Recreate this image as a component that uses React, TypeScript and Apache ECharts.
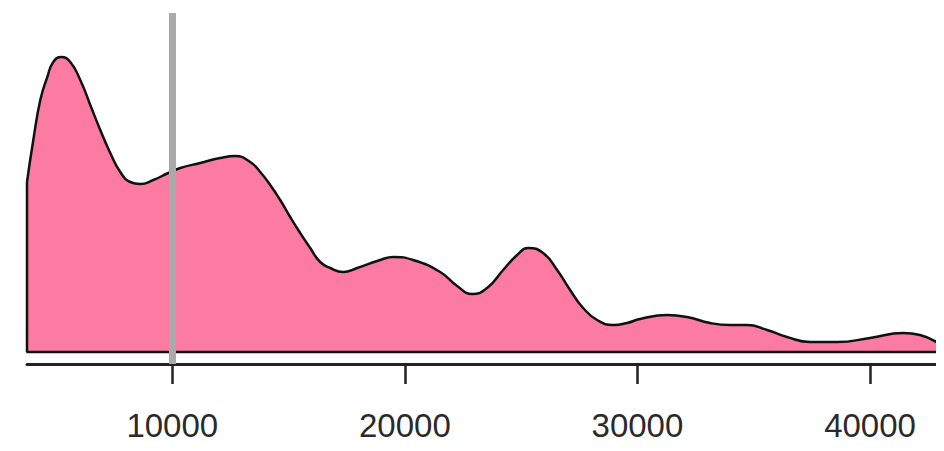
import React, { useEffect, useRef } from "react";
import * as echarts from "echarts";

// Density curve: x (value), relative density height
const densityX = [
  3755, 4026, 4327, 4628, 4885, 5229, 5616, 6046, 6476, 6905, 7335, 7765, 8195,
  8625, 9183, 9828, 10344, 11203, 12063, 12708, 13352, 13782, 14212, 14642,
  15072, 15501, 15931, 16361, 16791, 17350, 17951, 18940, 19499, 20358,
  21519, 22249, 22894, 23539, 24226, 24828, 25301, 25946, 26547, 27106, 27665,
  28267, 28954, 29556, 30114, 31275, 32135, 33123, 33982, 34714, 35573, 36433,
  37421, 38582, 40000, 41418, 42149, 42923,
];
const densityY = [
  170, 212, 252, 275, 290, 295, 290, 272, 247, 222, 199, 180, 170,
  168, 172, 179, 184, 189, 194, 196, 190, 180, 167, 152,
  135, 119, 104, 90, 84, 80, 84, 92, 95, 92,
  80, 66, 58, 64, 82, 97, 104, 99, 82, 62, 44,
  32, 27, 29, 33, 37, 35, 29, 27, 27, 22, 15,
  10, 10, 14, 19, 17, 9,
];
const tickValues = [10000, 20000, 30000, 40000];
const referenceX = 10000;
const xMin = 3755;
const xMax = 42923;

export default function App() {
  const ref = useRef<HTMLDivElement>(null);
  useEffect(() => {
    if (!ref.current) return;
    const chart = echarts.init(ref.current, null, { renderer: "svg" });
    const curve = densityX.map((x, i) => [x, densityY[i]]);
    const n = densityY.length;
    chart.setOption({
      animation: false,
      grid: { left: 19, right: 6, top: 5, bottom: 87 },
      xAxis: {
        type: "value",
        min: xMin,
        max: xMax,
        splitLine: { show: false },
        axisLine: { show: true, onZero: false, lineStyle: { color: "#222", width: 3 } },
        axisTick: {
          show: true,
          customValues: tickValues,
          length: 20,
          lineStyle: { color: "#222", width: 2.5 },
        },
        axisLabel: {
          customValues: tickValues,
          formatter: (v: number) => String(v),
          margin: 45,
          fontSize: 33,
          color: "#2a2a2a",
          fontFamily: "Liberation Sans, Arial, sans-serif",
        },
      },
      yAxis: {
        type: "value",
        min: -12,
        max: 339,
        show: false,
        splitLine: { show: false },
      },
      series: [
        {
          type: "line",
          data: curve,
          smooth: 0.5,
          symbol: "none",
          lineStyle: { color: "#111", width: 2.5 },
          areaStyle: { color: "#FB7BA2", opacity: 1, origin: "auto" },
          z: 2,
        },
        {
          type: "line",
          data: [
            [densityX[0], densityY[0]],
            [densityX[0], 0],
            [densityX[n - 1], 0],
            [densityX[n - 1], densityY[n - 1]],
          ],
          symbol: "none",
          lineStyle: { color: "#111", width: 2.5 },
          z: 3,
        },
        {
          type: "line",
          data: [],
          z: 5,
          markLine: {
            silent: true,
            symbol: "none",
            label: { show: false },
            lineStyle: { color: "#AAAAAA", width: 7, type: "solid" },
            data: [{ xAxis: referenceX }],
            z: 5,
          },
        },
      ],
    });
    return () => chart.dispose();
  }, []);
  return <div ref={ref} style={{ width: 936, height: 443 }} />;
}
